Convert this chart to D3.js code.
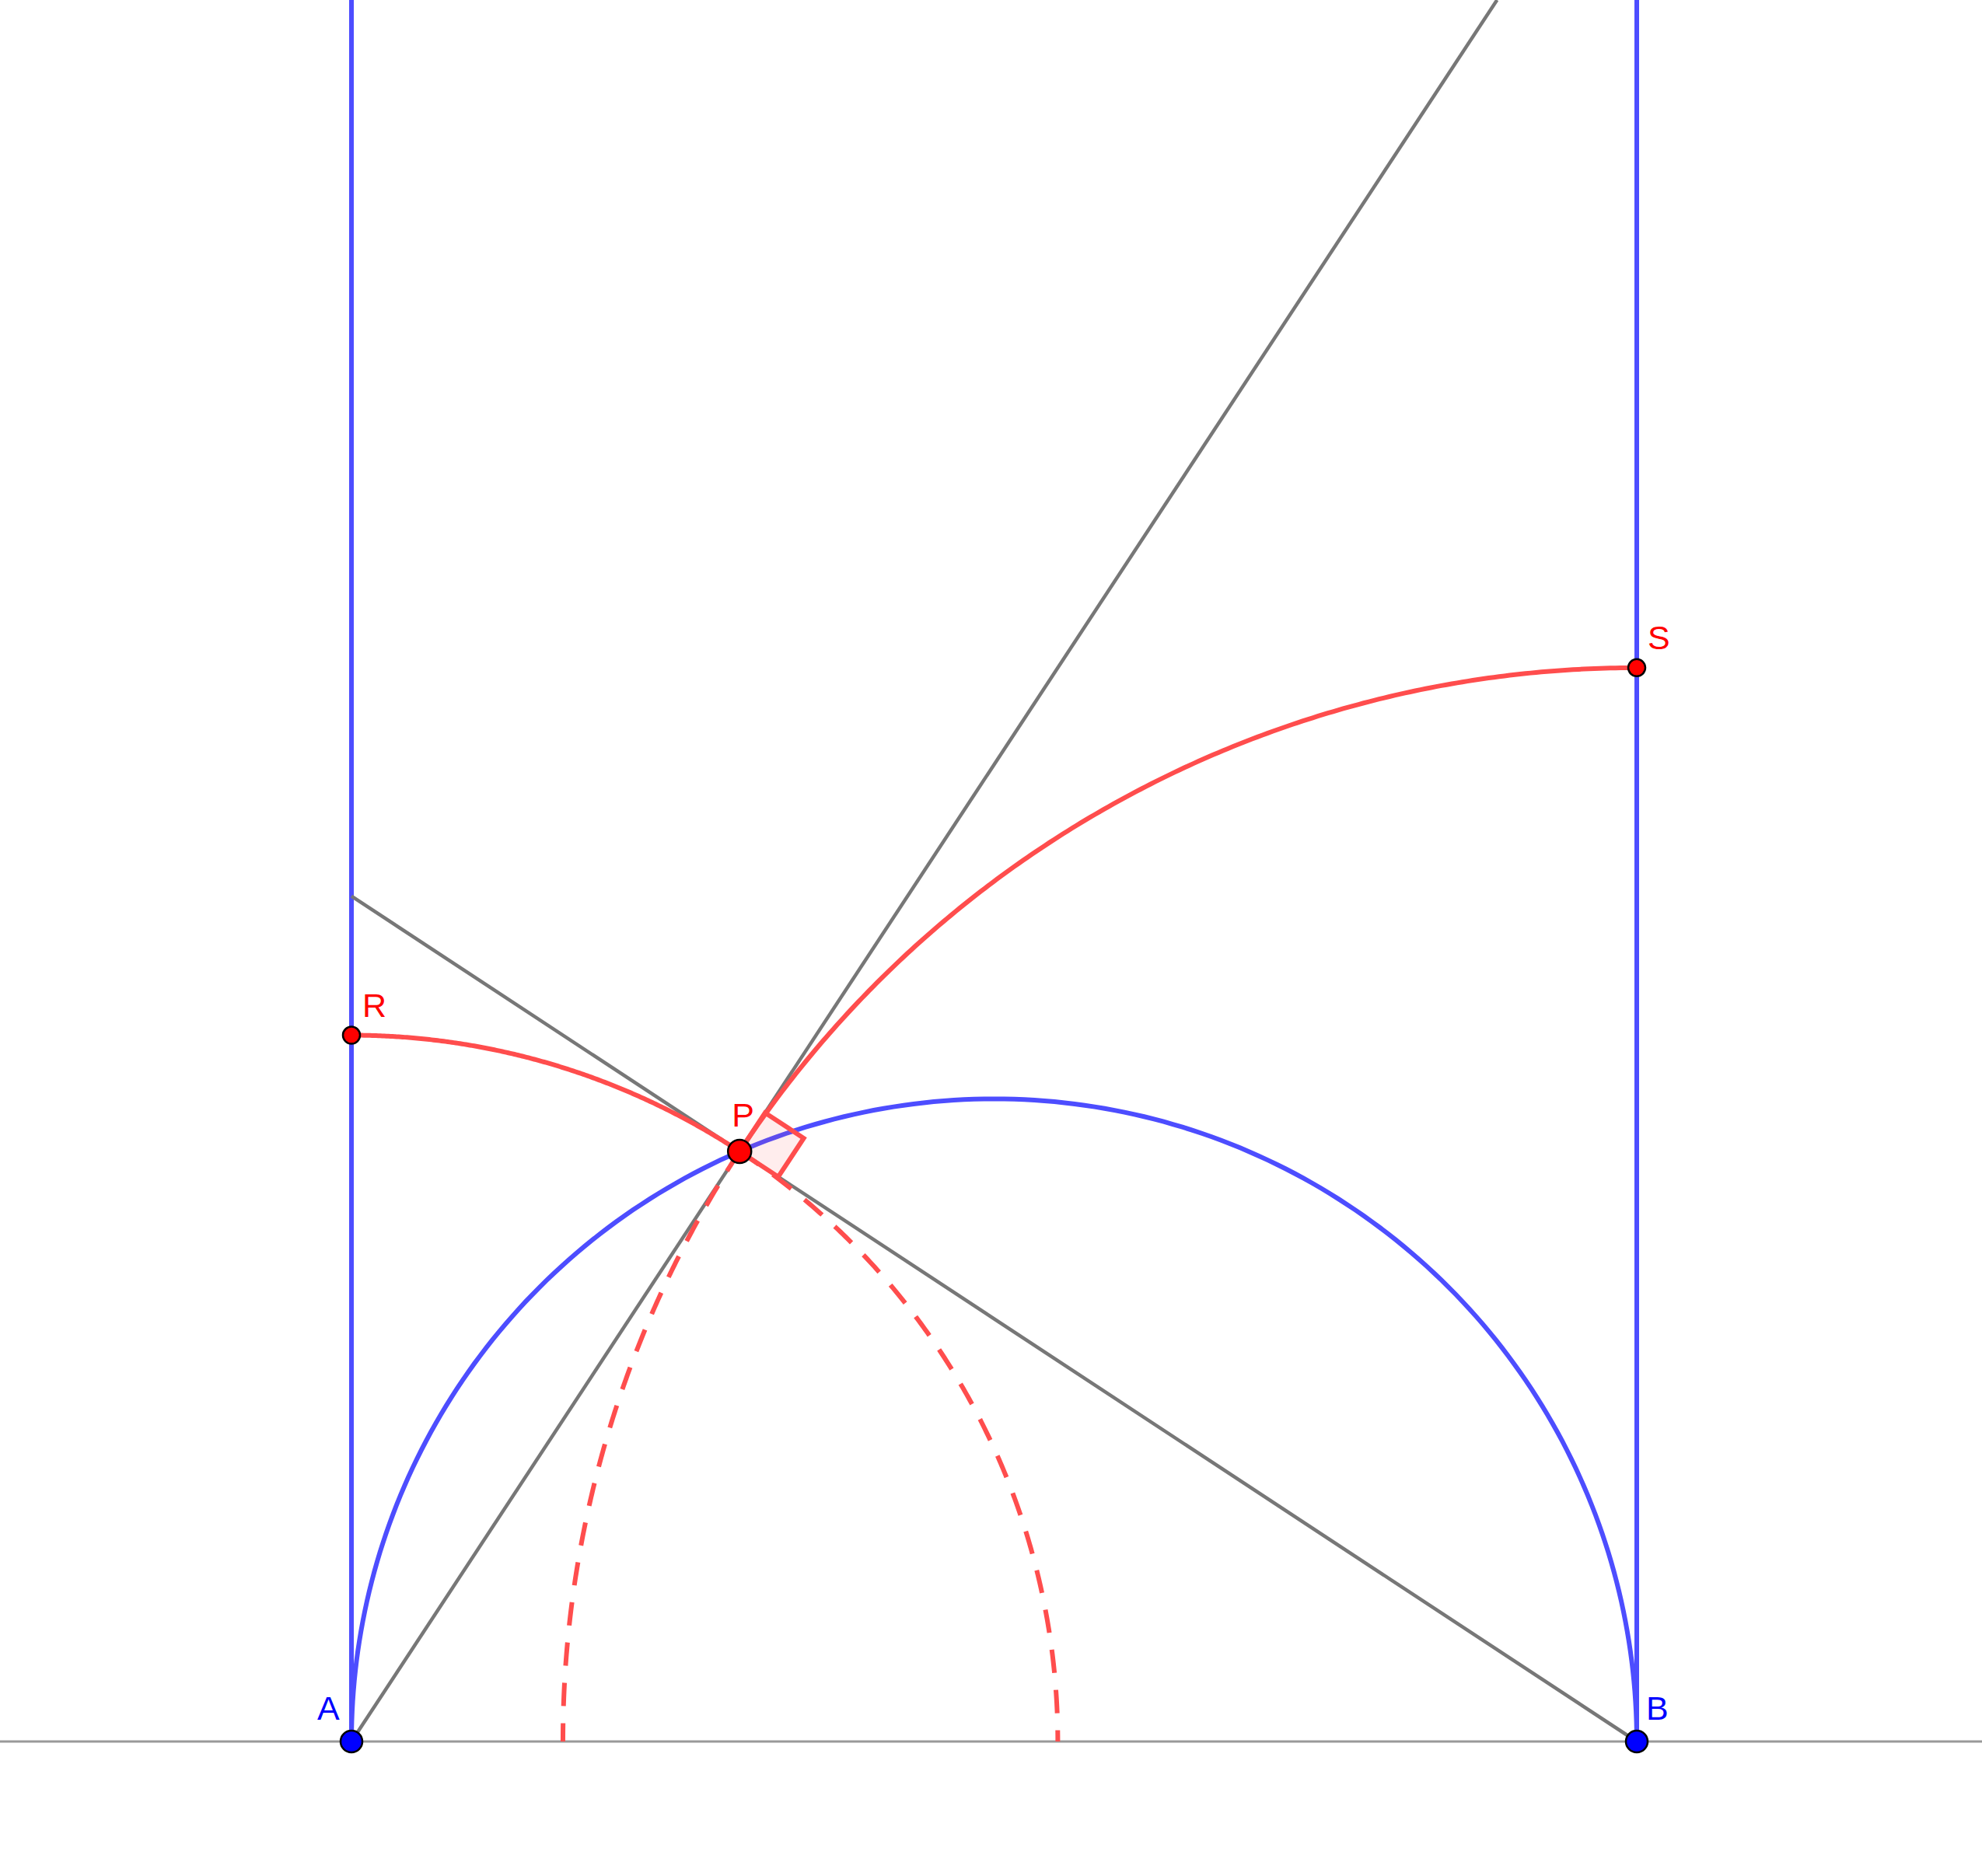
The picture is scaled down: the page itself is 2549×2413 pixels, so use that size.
<!DOCTYPE html>
<html>
<head>
<meta charset="utf-8">
<script src="https://cdn.jsdelivr.net/npm/d3@7"></script>
<style>body{margin:0;background:#fff}</style>
</head>
<body>
<svg></svg>
<script>
// Setting the dimensions
const width = 2549;
const height = 2413;

// Geometry data (units: AB = 10)
const pointA = [0, 0];
const pointB = [10, 0];
const pointPx = 3.02;
const pointP = [pointPx, Math.sqrt(25 - (pointPx - 5) ** 2)];
const yTop = 13.55;

const x = d3.scaleLinear().domain([0, 10]).range([452, 2105]);
const y = d3.scaleLinear().domain([0, yTop]).range([2240, 0]);

const svg = d3.select("svg").attr("width", width).attr("height", height);

const blue = "#4d4dff", red = "#ff4d4d", gray = "#777";
const line = d3.line().x(d => x(d[0])).y(d => y(d[1]));

const dist = (p, q) => Math.hypot(p[0] - q[0], p[1] - q[1]);
const arcPts = (c, r, a0, a1) =>
  d3.range(0, 201).map(i => {
    const a = a0 + (a1 - a0) * i / 200;
    return [c[0] + r * Math.cos(a), c[1] + r * Math.sin(a)];
  });

// Baseline
svg.append("line").attr("x1", 0).attr("x2", width)
  .attr("y1", y(0)).attr("y2", y(0))
  .attr("stroke", "#999").attr("stroke-width", 3);

// Vertical blue lines
[pointA, pointB].forEach(p => {
  svg.append("line").attr("x1", x(p[0])).attr("x2", x(p[0]))
    .attr("y1", 0).attr("y2", y(0))
    .attr("stroke", blue).attr("stroke-width", 6);
});

// Gray lines: A through P to top, B through P to left vertical
const tTop = yTop / pointP[1];
svg.append("path").attr("d", line([pointA, [pointP[0] * tTop, yTop]]))
  .attr("stroke", gray).attr("stroke-width", 4.5).attr("fill", "none");
const slopeBP = (pointP[1] - pointB[1]) / (pointP[0] - pointB[0]);
svg.append("path").attr("d", line([pointB, [0, slopeBP * (0 - pointB[0])]]))
  .attr("stroke", gray).attr("stroke-width", 4.5).attr("fill", "none");

// Blue semicircle on AB
svg.append("path").attr("d", line(arcPts([5, 0], 5, 0, Math.PI)))
  .attr("stroke", blue).attr("stroke-width", 6).attr("fill", "none");

// Red arcs centred A and B
const rA = dist(pointA, pointP), rB = dist(pointB, pointP);
const angA = Math.atan2(pointP[1], pointP[0]);
const angB = Math.atan2(pointP[1], pointP[0] - pointB[0]);
const redArc = (pts, dashed) => {
  const el = svg.append("path").attr("d", line(pts))
    .attr("stroke", red).attr("stroke-width", 6).attr("fill", "none");
  if (dashed) el.attr("stroke-dasharray", "30,22");
};
redArc(arcPts(pointA, rA, Math.PI / 2, angA), false);
redArc(arcPts(pointA, rA, angA, 0), true);
redArc(arcPts(pointB, rB, Math.PI / 2, angB), false);
redArc(arcPts(pointB, rB, angB, Math.PI), true);

// Right angle marker at P
const s = 0.36;
const u = [pointP[0] / rA, pointP[1] / rA];
const v = [(pointB[0] - pointP[0]) / rB, (pointB[1] - pointP[1]) / rB];
const sq = [pointP,
  [pointP[0] + s * u[0], pointP[1] + s * u[1]],
  [pointP[0] + s * (u[0] + v[0]), pointP[1] + s * (u[1] + v[1])],
  [pointP[0] + s * v[0], pointP[1] + s * v[1]]];
svg.append("path").attr("d", line(sq) + "Z")
  .attr("fill", red).attr("fill-opacity", 0.1)
  .attr("stroke", red).attr("stroke-width", 6);

// Points and labels
const pointR = [0, rA], pointS = [10, rB];
const pts = [
  { p: pointA, name: "A", c: "#0000ff", r: 14, dx: -44, dy: -28 },
  { p: pointB, name: "B", c: "#0000ff", r: 14, dx: 12, dy: -28 },
  { p: pointP, name: "P", c: "#ff0000", r: 15, dx: -10, dy: -32 },
  { p: pointR, name: "R", c: "#ff0000", r: 11, dx: 14, dy: -24 },
  { p: pointS, name: "S", c: "#ff0000", r: 11, dx: 14, dy: -24 }
];
pts.forEach(d => {
  svg.append("circle").attr("cx", x(d.p[0])).attr("cy", y(d.p[1])).attr("r", d.r)
    .attr("fill", d.c).attr("stroke", "#000").attr("stroke-width", 2.5);
  svg.append("text").attr("x", x(d.p[0]) + d.dx).attr("y", y(d.p[1]) + d.dy)
    .text(d.name).attr("fill", d.c)
    .style("font-family", "Liberation Sans, Arial, sans-serif").style("font-size", "43px");
});
</script>
</body>
</html>
